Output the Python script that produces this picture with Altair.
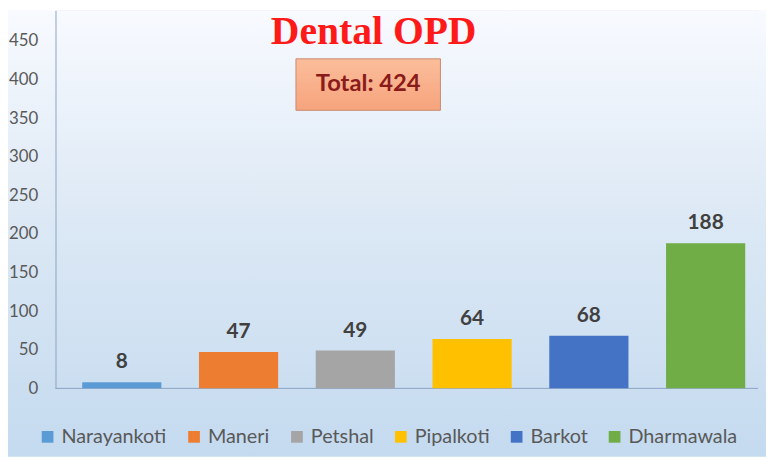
import altair as alt
import pandas as pd

sites = ["Narayankoti", "Maneri", "Petshal", "Pipalkoti", "Barkot", "Dharmawala"]
counts = [8, 47, 49, 64, 68, 188]
colors = ["#5b9bd5", "#ed7d31", "#a5a5a5", "#ffc000", "#4472c4", "#70ad47"]
y_ticks = [0, 50, 100, 150, 200, 250, 300, 350, 400, 450]
title_text = "Dental OPD"
total_text = "Total: 424"

df = pd.DataFrame({"site": sites, "count": counts})

W, H = 710, 382
PL, PT, PR, PB = 48, 0, 8, 69

bg = alt.Chart(pd.DataFrame({"a": [0]})).mark_rect(
    fill=alt.Gradient(
        gradient="linear",
        stops=[
            alt.GradientStop(color="#f8faff", offset=0),
            alt.GradientStop(color="#dde9f5", offset=0.45),
            alt.GradientStop(color="#c4daef", offset=1),
        ],
        x1=0, x2=0, y1=0, y2=1,
    )
).encode(
    x=alt.value(-PL), x2=alt.value(W + PR), y=alt.value(-PT), y2=alt.value(H + PB)
)

xscale = alt.Scale(domain=sites, range=[27, 697], paddingInner=0.322, paddingOuter=0)
xenc = alt.X(
    "site:N",
    sort=sites,
    scale=xscale,
    axis=alt.Axis(labels=False, ticks=False, title=None, domain=False, grid=False),
)
yenc = alt.Y(
    "count:Q",
    scale=alt.Scale(domain=[0, 489.7], nice=False, zero=True),
    axis=alt.Axis(values=y_ticks, ticks=False, title=None, grid=False,
                  domainColor="#8aa4c2", labelColor="#595959", labelFont="Lato",
                  labelFontSize=17, labelPadding=18, zindex=1),
)

baseline = alt.Chart(pd.DataFrame({"a": [0]})).mark_rule(
    color="#8aa4c2", strokeWidth=1
).encode(x=alt.value(0), x2=alt.value(W), y=alt.value(H))

bars = alt.Chart(df).mark_bar().encode(
    x=xenc,
    y=yenc,
    color=alt.Color(
        "site:N",
        sort=sites,
        scale=alt.Scale(domain=sites, range=colors),
        legend=alt.Legend(
            orient="none", legendX=-18, legendY=421, direction="horizontal",
            title=None, symbolType="square", symbolSize=140, symbolStrokeWidth=0,
            labelFont="Lato", labelFontSize=20, labelColor="#595959",
            columnPadding=17, labelOffset=4,
        ),
    ),
)

labels = alt.Chart(df).mark_text(
    font="Lato", fontSize=21, fontWeight="bold", color="#404040",
    baseline="alphabetic", dy=-14,
).encode(x=xenc, y=yenc, text="count:Q")

title = alt.Chart(pd.DataFrame({"t": [title_text]})).mark_text(
    font="Liberation Serif", fontSize=40, fontWeight="bold", color="#ff1a1a",
    align="center", baseline="alphabetic",
).encode(x=alt.value(321.5), y=alt.value(34), text="t:N")

box = alt.Chart(pd.DataFrame({"a": [0]})).mark_rect(
    fill=alt.Gradient(
        gradient="linear",
        stops=[
            alt.GradientStop(color="#fbbd9c", offset=0),
            alt.GradientStop(color="#f6a47c", offset=1),
        ],
        x1=0, x2=0, y1=0, y2=1,
    ),
    stroke="#c98a70", strokeWidth=1,
).encode(x=alt.value(243), x2=alt.value(389), y=alt.value(49), y2=alt.value(101))

box_text = alt.Chart(pd.DataFrame({"t": [total_text]})).mark_text(
    font="Lato", fontSize=24, fontWeight="bold", color="#8b1a1a",
    align="center", baseline="middle",
).encode(x=alt.value(316), y=alt.value(75), text="t:N")

chart = alt.layer(bg, baseline, bars, labels, title, box, box_text).properties(
    width=W, height=H,
    autosize=alt.AutoSizeParams(type="none"),
    padding={"left": PL, "top": PT, "right": PR, "bottom": PB},
).configure_view(stroke=None).configure(background="#ffffff")

chart.save("out.html", embed_options={"renderer": "svg", "actions": False})
